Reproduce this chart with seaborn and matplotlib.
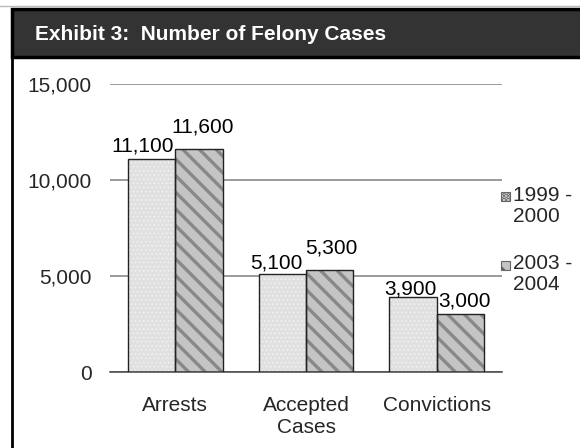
import matplotlib
matplotlib.use("Agg")
import matplotlib.pyplot as plt
import seaborn as sns
import pandas as pd
from matplotlib.patches import Rectangle
from matplotlib.lines import Line2D

# chart data
categories = ["Arrests", "Accepted\nCases", "Convictions"]
periods = ["1999 -\n2000", "2003 -\n2004"]
cases_1999 = [11100, 5100, 3900]
cases_2003 = [11600, 5300, 3000]
y_ticks = [0, 5000, 10000, 15000]

df = pd.DataFrame({
    "category": categories * 2,
    "period": [periods[0]] * 3 + [periods[1]] * 3,
    "cases": cases_1999 + cases_2003,
})

sns.set_style("white")
plt.rcParams["font.family"] = ["Liberation Sans", "DejaVu Sans"]
plt.rcParams["hatch.linewidth"] = 2.4

W, H = 580, 448
fig = plt.figure(figsize=(W / 100, H / 100), dpi=100)
ax = fig.add_axes([110 / W, 1 - 372 / H, (502 - 110) / W, (372 - 84) / H])

face = {periods[0]: "#e0e0e0", periods[1]: "#c4c4c4"}
hatch = {periods[0]: "....", periods[1]: "\\\\"}
hatch_col = {periods[0]: "#f4f4f4", periods[1]: "#888888"}

sns.barplot(data=df, x="category", y="cases", hue="period",
            order=categories, hue_order=periods, width=0.727,
            palette=[face[p] for p in periods], legend=False, ax=ax)

# label nudges (pixels) like the original, which staggers overlapping labels
label_dx = [-9, -6, -2, 4, 2, 4]
label_gap = [7, 6, 3, 17, 17, 8]

bars = list(ax.patches)
for i, p in enumerate(bars):
    per = periods[0] if i < 3 else periods[1]
    p.set_facecolor(face[per])
    p.set_hatch(hatch[per])
    p.set_edgecolor(hatch_col[per])
    p.set_linewidth(0)
    if i < 3 and hasattr(p, "set_hatch_linewidth"):
        p.set_hatch_linewidth(0.6)
    ax.add_patch(Rectangle(p.get_xy(), p.get_width(), p.get_height(),
                           fill=False, edgecolor="#222222", lw=1.0, zorder=3))
    ax.annotate(f"{int(p.get_height()):,}",
                (p.get_x() + p.get_width() / 2, p.get_height()),
                xytext=(label_dx[i] * 0.72, label_gap[i] * 0.72),
                textcoords="offset points", ha="center", va="baseline",
                fontsize=15, color="black", zorder=4)

ax.set_ylim(0, 15000)
ax.set_xlim(-0.5, 2.5)
ax.set_yticks(y_ticks)
ax.set_yticklabels([f"{v:,}" for v in y_ticks], fontsize=15)
ax.yaxis.grid(True, color="#808080", lw=1.1)
ax.set_axisbelow(True)
ax.set_xlabel("")
ax.set_ylabel("")
for s in ["top", "right", "left"]:
    ax.spines[s].set_visible(False)
ax.spines["bottom"].set_color("#444444")
ax.spines["bottom"].set_linewidth(1.1)

ax.set_xticks([0, 1, 2])
ax.set_xticklabels(categories, fontsize=15, linespacing=1.25)
ax.set_xticks([-0.5, 0.5, 1.5, 2.5], minor=True)
ax.tick_params(axis="x", which="major", length=0, pad=17)
ax.tick_params(axis="x", which="minor", length=6, color="#444444", width=1.1)
ax.tick_params(axis="y", length=0, pad=13)

# legend: square marker beside the first line of each two-line label
for per, yc in zip(periods, [197, 265]):
    fig.add_artist(Rectangle((501 / W, 1 - (yc + 4.5) / H), 9 / W, 9 / H,
                             transform=fig.transFigure, facecolor=face[per],
                             hatch=hatch[per], edgecolor="#666666", lw=0.8))
    fig.text(513 / W, 1 - (yc - 11) / H, per, fontsize=15, ha="left",
             va="top", linespacing=1.12)

# title bar and frame
fig.add_artist(Rectangle((12 / W, 1 - 57 / H), 1, 48 / H,
                         transform=fig.transFigure, facecolor="#333333",
                         edgecolor="black", lw=2.5, clip_on=False))
fig.add_artist(Line2D([0, 1], [1 - 6.5 / H] * 2, transform=fig.transFigure,
                      color="#bbbbbb", lw=1))
fig.add_artist(Line2D([12 / W, 12 / W], [0, 1 - 57 / H],
                      transform=fig.transFigure, color="black", lw=2))
fig.text(35 / W, 1 - 34 / H, "Exhibit 3:  Number of Felony Cases",
         color="white", fontsize=15, fontweight="bold", va="center", ha="left")

fig.savefig("out.png", dpi=100)
